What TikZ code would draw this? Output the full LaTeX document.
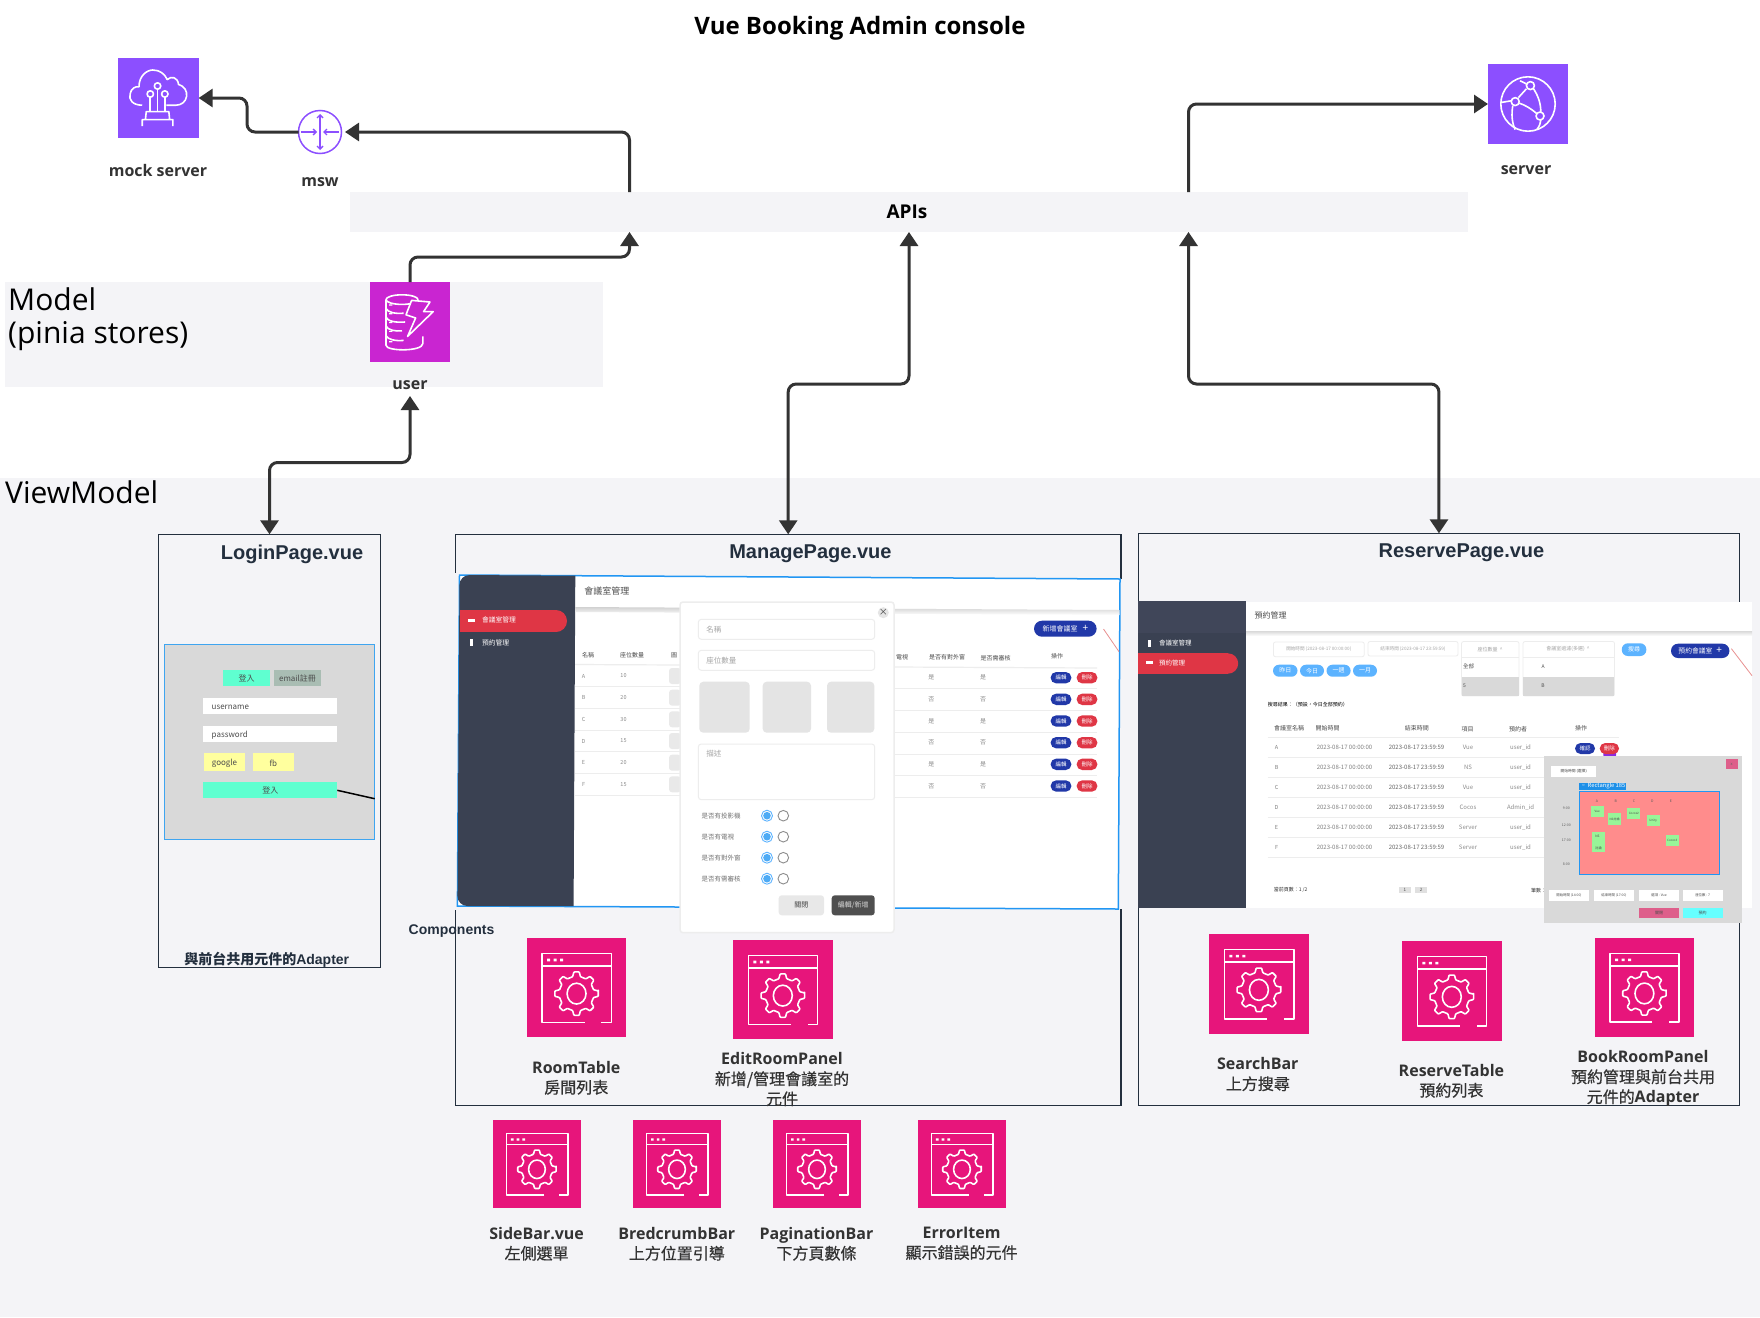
\documentclass[tikz,border=0pt]{standalone}
\usepackage{fontspec}
\setmainfont{Open Sans}
\newfontfamily\cjk{Noto Sans CJK TC}
\newfontfamily\cjkm[FakeBold=0.5]{Noto Sans CJK TC}
\newfontfamily\hv{Liberation Sans}
\usetikzlibrary{arrows.meta,calc,shapes.geometric}
\definecolor{bgc}{HTML}{F4F4F7}
\definecolor{apppink}{HTML}{E7157B}
\definecolor{awspurple}{HTML}{8C4FFF}
\definecolor{awsmag}{HTML}{C925D1}
\definecolor{arrc}{HTML}{333333}
\definecolor{lblc}{HTML}{333333}
\definecolor{boxc}{HTML}{232F3E}
\definecolor{sideb}{HTML}{3A4152}
\definecolor{sidec}{HTML}{404659}
\definecolor{redb}{HTML}{DF3645}
\definecolor{blueb}{HTML}{2138A8}
\definecolor{skyb}{HTML}{5CB3FF}
\definecolor{selb}{HTML}{2196F3}
\definecolor{loginb}{HTML}{3FA5F0}
\definecolor{pale}{HTML}{D9D9D9}
\definecolor{linec}{HTML}{EDEDED}
\definecolor{pinkb}{HTML}{DE5F8B}
\definecolor{mint}{HTML}{5FFFD0}
\definecolor{sage}{HTML}{A9BDB3}
\definecolor{yel}{HTML}{FFFF9E}
\definecolor{salmon}{HTML}{FF8C8C}
\definecolor{cardg}{HTML}{98F598}
\definecolor{cyanb}{HTML}{66FFFF}
\definecolor{chip}{HTML}{1E90E8}
\definecolor{purp}{HTML}{8A2BE2}
\definecolor{slot}{HTML}{E4E4E4}
\definecolor{darkb}{HTML}{4F4F4F}
\definecolor{pline}{HTML}{E89090}
\newcommand\sz[1]{\fontsize{#1}{#1}\selectfont}
\newcounter{tn}
\tikzset{
  iconbox/.style={rectangle,draw=none,inner sep=0pt,outer sep=0pt},
  glyph/.style={draw=white,line width=1.6pt,line join=round,fill=none},
  lbl/.style={text=lblc,align=center,inner sep=0pt,font=\fontsize{16}{20}\selectfont\bfseries},
  areabox/.style={rectangle,fill=bgc,inner sep=0pt,outer sep=0pt},
  pagebox/.style={rectangle,draw=boxc,line width=1.5pt,inner sep=0pt,outer sep=0pt},
  heading/.style={text=black,align=left,anchor=west,inner sep=0pt,font=\fontsize{30}{33}\selectfont},
  pagetitle/.style={text=boxc,inner sep=0pt,font=\hv\bfseries\fontsize{20}{24}\selectfont},
  conn/.style={draw=arrc,line width=3pt,rounded corners=8pt,-{Triangle[length=14pt,width=18pt]}},
  connb/.style={draw=arrc,line width=3pt,rounded corners=8pt,{Triangle[length=14pt,width=18pt]}-{Triangle[length=14pt,width=18pt]}},
  tt/.style={inner sep=0pt,outer sep=0pt,text=black!70,font=\cjk},
  rowline/.style={draw=linec,line width=0.8pt},
}
\newcommand\tx[4][]{\stepcounter{tn}\node[tt,#1] (t\arabic{tn}) at (#2) {\sz{#3}#4};}
\newcommand\btn[8]{%
  \path[fill=#5,rounded corners=#6pt] (#1,#2) rectangle (#3,#4);
  \stepcounter{tn}\node[tt] (t\arabic{tn}) at ({(#1+#3)/2},{(#2+#4)/2}) {\sz{#7}#8};}
\newcommand\field[5]{% x0 y0 x1 y1 text
  \path[draw=linec,line width=1pt,fill=white,rounded corners=3pt] (#1,#2) rectangle (#3,#4);
  \stepcounter{tn}\node[tt,anchor=west,text=black!35] (t\arabic{tn}) at ({#1+8},{#2+10}) {\sz{7.5}#5};}
\newcommand\appicon[5]{%
  \pgfmathsetmacro\iw{#4-#2}\pgfmathsetmacro\ih{#5-#3}%
  \pgfmathsetmacro\ux{\iw/100}\pgfmathsetmacro\uy{\ih/100}%
  \node[iconbox,fill=apppink,minimum width=\iw pt,minimum height=\ih pt] (#1) at ({(#2+#4)/2},{(#3+#5)/2}) {};
  \begin{scope}[shift={(#2,#3)},x={(\ux pt,0pt)},y={(0pt,-\uy pt)}]
    \draw[glyph] (58,85) -- (15.5,85) -- (15.5,15.5) -- (85,15.5) -- (85,85) -- (75,85);
    \draw[glyph] (15.5,28) -- (85,28);
    \fill[white] (20.5,20.8) rectangle +(3,2.6) (27,20.8) rectangle +(3,2.6) (33.5,20.8) rectangle +(3,2.6);
    \draw[glyph,rounded corners=0.7pt] ({50+22*cos(-7)},{56+22*sin(-7)})
      \foreach \a in {0,45,...,315} {
        -- ({50+22*cos(\a+7)},{56+22*sin(\a+7)})
        -- ({50+17.5*cos(\a+13)},{56+17.5*sin(\a+13)})
        -- ({50+17.5*cos(\a+32)},{56+17.5*sin(\a+32)})
        -- ({50+22*cos(\a+38)},{56+22*sin(\a+38)})
      } -- cycle;
    \draw[glyph] (50,56) ellipse [x radius=9.5,y radius=10.5];
  \end{scope}}
\begin{document}
\begin{tikzpicture}[x=1pt,y=-1pt]
\useasboundingbox (0,0) rectangle (1760,1317);
\fill[white] (0,0) rectangle (1760,1317);

% ---- areas
\node[areabox,minimum width=1760pt,minimum height=839pt,anchor=north west] (vmarea) at (0,478) {};
\node[areabox,minimum width=598pt,minimum height=104.5pt,anchor=north west] (modelarea) at (5,282) {};
\node[areabox,minimum width=1118pt,minimum height=40pt,anchor=north west] (api) at (350,192) {};
\node[text=black,inner sep=0pt,font=\bfseries\fontsize{19}{22}\selectfont] (apilbl) at (907,212) {APIs};
\node[inner sep=0pt,text=black,font=\bfseries\fontsize{24}{28}\selectfont] (title) at (860,28) {Vue Booking Admin console};
\node[heading] (modeltxt) at (8,319.5) {Model\\(pinia stores)};
\node[heading] (vmtxt) at (5,492.5) {ViewModel};

% ---- page boxes
\node[pagebox,minimum width=222.4pt,minimum height=433pt,anchor=north west] (login) at (158.3,534.3) {};
\node[pagebox,minimum width=665.2pt,minimum height=571pt,anchor=north west] (manage) at (455.6,534.3) {};
\node[pagebox,minimum width=601.1pt,minimum height=572pt,anchor=north west] (reserve) at (1138.4,533.3) {};
\node[pagetitle] (logint) at (292,554) {LoginPage.vue};
\node[pagetitle] (managet) at (810.4,554) {ManagePage.vue};
\node[pagetitle] (reservet) at (1461.5,553) {ReservePage.vue};
\node[inner sep=0pt,text=boxc,font=\hv\bfseries\fontsize{14}{16}\selectfont] (adapterl) at (266.7,959.3) {{\cjk 與前台共用元件的}Adapter};
\node[inner sep=0pt,text=boxc,font=\hv\bfseries\fontsize{14}{16}\selectfont] (compl) at (451.5,931.5) {Components};

% ---- login page mock-up
\draw[fill=pale,draw=loginb,line width=1.5pt] (164.7,644.7) rectangle (374.7,839.3);
\draw[black,line width=1.5pt] (337.3,790.3) -- (374.7,798.7);
\btn{223.3}{670.3}{270}{686}{mint}{0}{8}{登入}
\btn{274}{670.3}{321}{686}{sage}{0}{8}{email註冊}
\path[fill=white] (203.3,697.7) rectangle (337.3,714);
\tx[anchor=west]{211.7,707}{8}{username}
\path[fill=white] (203.3,725.7) rectangle (337.3,742);
\tx[anchor=west]{211.7,735}{8}{password}
\path[fill=yel] (204,752.7) rectangle (245,771.3);
\tx{224.5,763}{8}{google}
\path[fill=yel] (253,752.7) rectangle (293.7,771.3);
\tx{273.4,763}{8}{fb}
\path[fill=mint] (203.3,781.7) rectangle (337.3,797.7);
\tx{270.3,790.7}{8}{登入}

% ---- manage page mock-up
\fill[bgc] (451.8,573) rectangle (459,910);
\fill[bgc] (1119,579) rectangle (1123,909);
\draw[fill=white,draw=selb,line width=1.5pt] (459.5,575) -- (1120,579) -- (1118.3,909) -- (457.4,906) -- cycle;
\fill[sideb] (575.3,575.7) [rounded corners=10pt] -- (459.5,575) -- (457.4,906) [sharp corners] -- (573.6,906) -- cycle;
\shade[top color=black!18,bottom color=white] (575.3,607) -- (1119.5,610) -- (1119.5,615) -- (575.3,612) -- cycle;
\tx[anchor=west]{584.4,591}{9}{會議室管理}
\fill[redb] (459.5,610) rectangle (556,632);
\fill[redb] (556,621) circle [radius=11];
\fill[white] (467.5,619) rectangle +(7,3);
\tx[anchor=west,text=white]{482,620.3}{6.8}{會議室管理}
\fill[white] (469.5,639) rectangle +(3,7);
\tx[anchor=west,text=white]{482,642.7}{6.8}{預約管理}
\tx{588,655}{6}{名稱}
\tx{632,655}{6}{座位數量}
\tx[anchor=west]{671,655.5}{6}{圖}
\tx{902,657}{6}{電視}
\tx{947,657.3}{6}{是否有對外窗}
\tx{995.5,657.7}{6}{是否需審核}
\tx{1057,656.7}{6}{操作}
\draw[rowline,line width=1.2pt] (575,664.5) -- (680,665);
\draw[rowline,line width=1.2pt] (895,667) -- (1097,668);
\foreach \y/\a/\b/\c in {676/A/10/686.5,697.7/B/20/708.3,719.3/C/30/730,741/D/15/751.7,762.7/E/20/773.5,784.3/F/15/795.3}{
  \tx[text=black!45]{583.6,\y}{5.5}{\a}
  \tx[text=black!45]{623.5,\y}{5.5}{\b}
  \draw[rowline] (575,\c) -- (680,\c);
  \path[fill=slot!80!white,rounded corners=3pt] (669,\y-8) rectangle (681,\y+8);
}
\foreach \y/\a/\c in {677.7/是/688.7,699.3/否/710.3,721/是/732,742.7/否/754,764.3/是/775.7,786/否/797.3}{
  \tx[text=black!45]{931.4,\y}{6}{\a}
  \tx[text=black!45]{983,\y}{6}{\a}
  \draw[rowline] (895,\c) -- (1097,\c);
  \btn{1050.6}{\y-5.7}{1071.4}{\y+5.7}{blueb}{5.6}{5.5}{\color{white}編輯}
  \btn{1076.6}{\y-5.7}{1097.4}{\y+5.7}{redb}{5.6}{5.5}{\color{white}刪除}
}
\btn{1034}{620.7}{1096.6}{636.7}{blueb}{8}{7}{\color{white}新增會議室\hspace{5pt}{\sz{10}+}}
\draw[pline,line width=0.8pt] (1103.5,629) -- (1119,651.7);

% ---- modal
\path[fill=white,draw=black!7,line width=1.5pt,rounded corners=3pt] (680,602) rectangle (894,932.7);
\fill[black!10] (883.3,612.7) circle [radius=5.5];
\tx[text=black!75]{883.3,612.7}{9}{×}
\field{698.3}{619.3}{874.7}{639.3}{名稱}
\field{698.3}{650.3}{874.7}{670.3}{座位數量}
\path[fill=slot,rounded corners=4pt] (699.3,681.7) rectangle (749.7,732.7);
\path[fill=slot,rounded corners=4pt] (762.7,681.7) rectangle (811,732.7);
\path[fill=slot,rounded corners=4pt] (827,681.7) rectangle (874.3,732.7);
\field{698.3}{744}{874.7}{799.7}{描述}
\foreach \y/\t in {815.7/是否有投影機,836.7/是否有電視,857.7/是否有對外窗,878.7/是否有需審核}{
  \tx[anchor=west,text=black!55]{701.7,\y}{6.5}{\t}
  \draw[draw=skyb,line width=0.9pt,fill=white] (767,\y) circle [radius=5.5];
  \fill[selb!80!white] (767,\y) circle [radius=3.8];
  \draw[draw=black!45,line width=0.9pt,fill=white] (783.3,\y) circle [radius=5.3];
}
\btn{778.7}{895.3}{824}{915.3}{black!9}{3}{7}{\color{black!75}關閉}
\btn{831.7}{895.3}{874.7}{915.3}{darkb}{3}{7}{\color{black!15}編輯/新增}

% ---- reserve page mock-up
\fill[white] (1138,601.7) rectangle (1752,908.3);
\fill[sideb] (1138,601) rectangle (1246,907.7);
\fill[sidec] (1138,601) rectangle (1246,633);
\shade[top color=black!15,bottom color=white] (1246,631) rectangle (1752,636);
\tx[anchor=west]{1254.5,615.3}{8}{預約管理}
\fill[white] (1147.5,639.5) rectangle +(3,7);
\tx[anchor=west,text=white]{1159,643}{6.5}{會議室管理}
\fill[redb] (1138,653.3) rectangle (1228,673.7);
\fill[redb] (1228,663.5) circle [radius=10.2];
\fill[white] (1146,661.2) rectangle +(7,3);
\tx[anchor=west,text=white]{1159,662.7}{6.5}{預約管理}
\path[fill=white,draw=linec,line width=0.8pt,rounded corners=2pt] (1273.4,642) rectangle (1364.2,656.7);
\tx{1318.8,649.3}{4.6}{\color{black!35}開始時間 (2023-08-17 00:00:00)}
\path[fill=white,draw=linec,line width=0.8pt,rounded corners=2pt] (1368,641.5) rectangle (1458,656);
\tx{1413,648.7}{4.6}{\color{black!35}結束時間 (2023-08-17 23:59:59)}
\path[fill=white,draw=linec,line width=0.8pt,rounded corners=2pt] (1461.5,641.5) rectangle (1519,696);
\path[fill=pale] (1462,676.7) rectangle (1518.6,695.6);
\draw[rowline] (1461.5,657.3) -- (1519,657.3);
\tx{1490,649.5}{5}{\color{black!35}座位數量 \ \^{}}
\tx[anchor=west]{1463,666.7}{5.5}{全部}
\tx[anchor=west]{1463,686}{5}{5}
\path[fill=white,draw=linec,line width=0.8pt,rounded corners=2pt] (1523,641.5) rectangle (1614.5,696);
\path[fill=pale] (1523.4,676.7) rectangle (1614.1,695.6);
\draw[rowline] (1523,657.3) -- (1614.5,657.3);
\tx{1568,649.3}{5}{\color{black!35}會議室過濾(多選) \ \^{}}
\tx{1543,666.7}{5}{A}
\tx{1543,686}{5}{B}
\btn{1621.8}{643.3}{1646.3}{656}{skyb}{6}{6}{\color{white}搜尋}
\btn{1671}{643.7}{1729.4}{658}{blueb}{7}{6.8}{\color{white}預約會議室\hspace{4pt}{\sz{10}+}}
\draw[pline,line width=0.8pt] (1731.4,648.7) -- (1752,675.7);
\btn{1273}{664.7}{1297.5}{676.7}{skyb}{6}{6}{\color{white}昨日}
\btn{1300}{664.7}{1324}{676.7}{skyb}{6}{6}{\color{white}今日}
\btn{1326.5}{664.7}{1350.6}{676.7}{skyb}{6}{6}{\color{white}一週}
\btn{1353}{664.7}{1377}{676.7}{skyb}{6}{6}{\color{white}一月}
\tx[anchor=west,text=black]{1267.8,704.7}{5}{搜尋結果：（預設，今日全部預約）}
\tx{1289,728.3}{6}{會議室名稱}
\tx{1327.7,728.3}{6}{開始時間}
\tx{1416.9,728.3}{6}{結束時間}
\tx{1467.5,729}{6}{項目}
\tx{1518,729}{6}{預約者}
\tx{1581,728.3}{6}{操作}
\draw[rowline,line width=1.2pt] (1267.8,737.3) -- (1619,737.3);
\foreach \y/\a/\p/\o/\c in {747.3/A/Vue/user\_id/757.7,767.7/B/NS/user\_id/777.7,787.7/C/Vue/user\_id/797.7,807.7/D/Cocos/Admin\_id/817.7,827.7/E/Server/user\_id/837.7,847.7/F/Server/user\_id/857.7}{
  \tx[text=black!50]{1276.6,\y}{5.5}{\a}
  \tx[text=black!50]{1344.5,\y}{6}{2023-08-17 00:00:00}
  \tx[text=black!60]{1416.5,\y}{6}{2023-08-17 23:59:59}
  \tx[text=black!45]{1468,\y}{6}{\p}
  \tx[text=black!45]{1520.5,\y}{6}{\o}
  \draw[rowline] (1267.8,\c) -- (1619,\c);
}
\path[fill=purp,rounded corners=1pt] (1603.3,751.7) rectangle (1616,756.5);
\btn{1575}{743}{1595}{754}{blueb}{5.5}{5.5}{\color{white}確認}
\btn{1599.7}{743}{1619}{754}{redb}{5.5}{5.5}{\color{white}刪除}
\tx[anchor=west,text=black!80]{1273.8,889.7}{5}{當前頁數：1 /2}
\btn{1399}{886.7}{1410.5}{893}{black!12}{0}{4.5}{1}
\btn{1415}{886.7}{1427}{893}{black!12}{0}{4.5}{2}
\tx[anchor=west,text=black!80]{1531,891}{5}{筆數：}

% ---- booking overlay
\fill[pale] (1544.3,756) rectangle (1741.7,923.3);
\btn{1725.7}{759}{1737.7}{769.3}{pinkb}{0}{4}{\color{black!60}x}
\btn{1551.3}{766}{1596}{776.7}{white}{0}{3.8}{開始時間 (選擇)}
\draw[fill=salmon,draw=selb,line width=1.4pt] (1579.7,791.3) rectangle (1719.7,874.7);
\path[fill=chip] (1579,782.7) rectangle (1626,790);
\tx[text=white]{1603,786.4}{5.8}{▫ Rectangle 185}
\foreach \x/\t in {1597/A,1615.7/B,1634/C,1652.3/D,1671/E}{\tx[text=black!65]{\x,801.3}{3.5}{\t}}
\foreach \y/\t in {808.3/9:00,825/12:00,840/17:00,864.3/8:00}{\tx[text=black!65]{1566.3,\y}{3.5}{\t}}
\btn{1590.7}{805.7}{1603.7}{817}{cardg}{0}{3}{Vue}
\btn{1608}{813.3}{1621}{824.7}{cardg}{0}{3}{NS討論}
\btn{1627.3}{808}{1640.3}{819}{cardg}{0}{3}{Cocos2}
\btn{1646.7}{815.3}{1659.7}{826}{cardg}{0}{3}{Unity}
\path[fill=cardg] (1592,832) rectangle (1605.3,852.3);
\tx[align=left]{1598.6,842}{3.2}{NS\\\sz{3.2}討論}
\btn{1665.7}{835.3}{1678.7}{846}{cardg}{0}{3}{Cocos3}
\btn{1549}{890}{1589}{900.7}{white}{0}{3.4}{開始時間 (14:00)}
\btn{1594}{890}{1634}{900.7}{white}{0}{3.4}{結束時間 (17:00)}
\btn{1639}{890}{1679}{900.7}{white}{0}{3.4}{選項 : Vue}
\btn{1682.7}{890}{1722.7}{900.7}{white}{0}{3.4}{座位數 : 7}
\btn{1639}{908}{1679}{918.3}{pinkb}{0}{4}{關閉}
\btn{1682.7}{908}{1722.7}{918.3}{cyanb}{0}{4}{預約}

% ---- top services
\node[iconbox,fill=awspurple,minimum width=80.7pt,minimum height=80pt] (mock) at (158.3,98) {};
\begin{scope}[shift={(118,58)},x={(0.807pt,0pt)},y={(0pt,-0.8pt)}]
  \draw[glyph] (30,59) .. controls (18,59) and (13,52) .. (15,45) .. controls (16,38) and (22,35) .. (26,36) .. controls (26,22) and (36,15) .. (43,15) .. controls (52,15) and (58,20) .. (61,27) .. controls (66,22) and (74,24) .. (75,33) .. controls (82,35) and (86,41) .. (85,48) .. controls (84,55) and (78,59) .. (72,59) -- (60,59);
  \draw[glyph] (49,35) circle [radius=4] (40,45) circle [radius=4] (58,45) circle [radius=4];
  \draw[glyph] (40,49) -- (40,67) (49,39) -- (49,67) (58,49) -- (58,67);
  \draw[glyph] (30,85) -- (30,77) -- (68,77) -- (68,85) (34,77) -- (35,67) -- (63,67) -- (64,77);
\end{scope}
\node[lbl] (mockl) at (158,170) {mock server};

\node[circle,draw=awspurple,fill=white,line width=1.5pt,minimum size=43pt,inner sep=0pt,outer sep=0pt] (msw) at (320,132) {};
\draw[awspurple,line width=1.4pt,{Straight Barb[length=3pt,width=6pt]}-{Straight Barb[length=3pt,width=6pt]}] ($(msw.center)+(0,-18)$) -- ($(msw.center)+(0,18)$);
\draw[awspurple,line width=1.4pt,-{Straight Barb[length=3pt,width=6pt]}] ($(msw.center)+(-19,0)$) -- ($(msw.center)+(-3,0)$);
\draw[awspurple,line width=1.4pt,-{Straight Barb[length=3pt,width=6pt]}] ($(msw.center)+(19,0)$) -- ($(msw.center)+(3,0)$);
\node[lbl] (mswl) at (320,182) {msw};

\node[iconbox,fill=awspurple,minimum width=80pt,minimum height=80pt] (server) at (1528,104) {};
\begin{scope}[shift={(1488,64)},x={(0.8pt,0pt)},y={(0pt,-0.8pt)}]
  \draw[glyph] (50,50) circle [radius=34];
  \draw[glyph,fill=awspurple] (53,27) circle [radius=5] (34,47) circle [radius=5] (65,65) circle [radius=5];
  \draw[glyph] (48,31) -- (38,42) (39,49) .. controls (46,51) and (54,56) .. (61,62);
  \draw[glyph] (57,31) .. controls (62,39) and (66,48) .. (66,60);
  \draw[glyph] (17,48) -- (29,46) (31,52) .. controls (29,63) and (30,74) .. (34,82);
  \draw[glyph] (40,21) .. controls (43,22) and (46,24) .. (48,25);
  \draw[glyph] (66,70) .. controls (66,74) and (64,78) .. (61,82);
\end{scope}
\node[lbl] (serverl) at (1526,170.5) {server};

\node[iconbox,fill=awsmag,minimum width=80pt,minimum height=80pt] (user) at (410,322) {};
\begin{scope}[shift={(370,282)},x={(0.8pt,0pt)},y={(0pt,-0.8pt)}]
  \draw[glyph] (40,22) ellipse [x radius=20,y radius=6];
  \draw[glyph] (20,22) -- (20,79) .. controls (20,87) and (66,87) .. (66,77) -- (66,68);
  \draw[glyph] (20,33) .. controls (22,38) and (32,40) .. (42,39);
  \draw[glyph] (20,44) .. controls (22,49) and (32,51) .. (44,50);
  \draw[glyph] (20,55) .. controls (22,60) and (32,62) .. (40,61);
  \draw[glyph] (20,67) .. controls (22,72) and (32,74) .. (42,73);
  \path[fill=awsmag] (52,23) -- (75,25) -- (67,37) -- (79,37) -- (47,68) -- (57,45) -- (45,41) -- cycle;
  \draw[glyph] (52,23) -- (75,25) -- (67,37) -- (79,37) -- (47,68) -- (57,45) -- (45,41) -- cycle;
  \fill[white] (24,28) rectangle +(4,1.4) (24,39) rectangle +(4,1.4) (24,50) rectangle +(4,1.4) (24,61) rectangle +(4,1.4) (24,74) rectangle +(4,1.4);
\end{scope}
\node[lbl] (userl) at (410,385) {user};

% ---- component icons
\appicon{roomtable}{526.8}{938}{626.3}{1037.3}
\appicon{editroom}{733}{940}{832.6}{1039.3}
\appicon{sidebar}{492.9}{1120}{581}{1208}
\appicon{bread}{633}{1120}{721}{1208}
\appicon{paging}{773}{1120}{861}{1208}
\appicon{erroritem}{917.9}{1120}{1006}{1208}
\appicon{searchbar}{1209}{934}{1308.8}{1033.7}
\appicon{restable}{1402}{941}{1501.6}{1040.7}
\appicon{bookroom}{1594.8}{938}{1694}{1037}

\node[lbl,anchor=north] (roomtablel) at (576.3,1061) {RoomTable\\{\cjkm\mdseries 房間列表}};
\node[lbl,anchor=north] (editrooml) at (782,1052.5) {EditRoomPanel\\{\cjkm\mdseries 新增/管理會議室的}\\{\cjkm\mdseries 元件}};
\node[lbl,anchor=north] (sidebarl) at (536.6,1227) {SideBar.vue\\{\cjkm\mdseries 左側選單}};
\node[lbl,anchor=north] (breadl) at (676.8,1227) {BredcrumbBar\\{\cjkm\mdseries 上方位置引導}};
\node[lbl,anchor=north] (pagingl) at (816.5,1227) {PaginationBar\\{\cjkm\mdseries 下方頁數條}};
\node[lbl,anchor=north] (errorl) at (961.6,1227) {ErrorItem\\{\cjkm\mdseries 顯示錯誤的元件}};
\node[lbl,anchor=north] (searchl) at (1257.8,1057.5) {SearchBar\\{\cjkm\mdseries 上方搜尋}};
\node[lbl,anchor=north] (restablel) at (1451.4,1064) {ReserveTable\\{\cjkm\mdseries 預約列表}};
\node[lbl,anchor=north] (bookl) at (1643,1050.5) {BookRoomPanel\\{\cjkm\mdseries 預約管理與前台共用}\\{\cjkm\mdseries 元件的}Adapter};

% ---- connectors
\coordinate (apiA) at ($(api.south west)!0.25!(api.south east)$);
\coordinate (apiB) at ($(api.south west)!0.5!(api.south east)$);
\coordinate (apiC) at ($(api.south west)!0.75!(api.south east)$);
\coordinate (apiAn) at ($(api.north west)!0.25!(api.north east)$);
\coordinate (apiCn) at ($(api.north west)!0.75!(api.north east)$);
\coordinate (bendMsw) at (247,115);
\coordinate (bendUser) at (520,257);
\coordinate (bendLogin) at (340,462.5);
\coordinate (bendManage) at (848,384);
\coordinate (bendReserve) at (1314,384);
\coordinate (userIn) at (410,396);
\coordinate (mswIn) at (345,132);
\draw[conn] (msw.west) -| (bendMsw) |- (mock.east);
\draw[conn] (apiAn) |- (mswIn);
\draw[conn] (apiCn) |- (server.west);
\draw[conn] (user.north) |- (bendUser) -| (apiA);
\draw[connb] (login.north) |- (bendLogin) -| (userIn);
\draw[connb] (manage.north) |- (bendManage) -| (apiB);
\draw[connb] (reserve.north) |- (bendReserve) -| (apiC);
\end{tikzpicture}
\end{document}
